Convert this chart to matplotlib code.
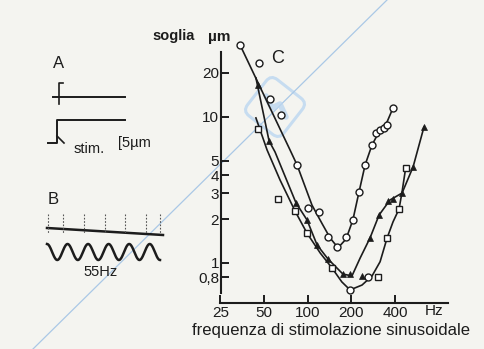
import matplotlib
matplotlib.use('Agg')
import matplotlib.pyplot as plt
import numpy as np
from matplotlib.ticker import FixedLocator, NullLocator
from matplotlib.patches import FancyBboxPatch
from matplotlib.transforms import Affine2D

plt.rcParams['font.family'] = ['Liberation Sans', 'DejaVu Sans']

W, H = 484, 349
BG = '#f4f4f0'
INK = '#1c1c1c'

# assi
x_ticks = [25, 50, 100, 200, 400]
y_ticks = [0.8, 1, 2, 3, 4, 5, 10, 20]
y_tick_labels = ['0,8', '1', '2', '3', '4', '5', '10', '20']

# cerchi vuoti (curva superiore) - frequenza Hz, soglia um
circ_f = [34.1, 46.1, 54.9, 65.4, 84.4, 100.5, 119.6, 138, 159, 184, 206, 226,
          249, 278, 296, 316, 335, 352, 387, 196, 262]
circ_v = [31.1, 23.4, 13.3, 10.3, 4.69, 2.38, 2.23, 1.51, 1.28, 1.51, 1.97, 3.07,
          4.69, 6.43, 7.77, 8.15, 8.4, 8.8, 11.5, 0.654, 0.80]
circ_fit_f = [34.1, 75.5, 84.4, 107, 126, 143, 162, 184, 205, 226, 249, 278, 316, 353, 388]
circ_fit_v = [31.1, 5.94, 4.69, 2.49, 1.85, 1.48, 1.27, 1.46, 1.97, 3.06, 4.69, 6.43, 8.15, 9.24, 11.5]

# triangoli pieni (curva intermedia)
tri_f = [45.4, 54, 83, 99, 116, 138, 175, 196, 237, 269, 311, 357, 387, 448, 534, 635]
tri_v = [16.6, 6.85, 2.58, 1.97, 1.33, 1.07, 0.84, 0.84, 0.82, 1.48, 2.13, 2.66,
         2.75, 3.01, 4.55, 8.54]
tri_fit_f = [43.9, 54.1, 59.5, 83.0, 98.9, 116, 138, 175, 202, 230, 269, 311, 370, 448, 534, 635]
tri_fit_v = [18.5, 6.85, 5.75, 2.58, 1.97, 1.33, 1.065, 0.84, 0.815, 1.08, 1.48, 2.13,
             2.70, 3.01, 4.55, 8.54]

# quadrati vuoti (curva inferiore)
sq_f = [45.4, 62.3, 81.7, 99, 147, 305, 353, 427, 477]
sq_v = [8.28, 2.75, 2.27, 1.60, 0.925, 0.80, 1.49, 2.34, 4.47]
sq_fit_f = [43.9, 52.4, 64.4, 81.7, 98.9, 122, 147, 172, 196, 237, 278, 316, 353, 388, 427, 448, 470]
sq_fit_v = [9.84, 5.94, 3.70, 2.27, 1.60, 1.17, 0.925, 0.742, 0.654, 0.706, 0.815, 1.02,
            1.48, 1.91, 2.34, 3.06, 4.20]

# pannello B: stimolo sinusoidale
stim_hz = 55
n_cycles = 5.5

fig = plt.figure(figsize=(W / 100, H / 100), dpi=100, facecolor=BG)

# livello decorativo in coordinate pixel (pannelli A e B, linea blu, timbro)
deco = fig.add_axes([0, 0, 1, 1])
deco.set_xlim(0, W)
deco.set_ylim(H, 0)
deco.axis('off')

deco.plot([33, 387], [349, 0], color='#aac8e6', lw=0.9)
stamp = FancyBboxPatch((255, 87), 40, 40, boxstyle='round,pad=3,rounding_size=8',
                       fc='none', ec='#c6dcf0', lw=2.2,
                       transform=Affine2D().rotate_deg_around(275, 107, 38) + deco.transData)
deco.add_patch(stamp)
deco.plot([266, 272, 280, 286], [96, 108, 104, 117], color='#bcd6ef', lw=4,
          solid_capstyle='round', alpha=0.8)

# A
deco.text(59, 63, 'A', fontsize=12, ha='center', va='center', color=INK)
deco.plot([53, 125], [97, 97], color=INK, lw=1.4)
deco.plot([59, 59, 63], [104, 83, 83], color=INK, lw=1.2)
deco.plot([125, 57, 57, 48], [120, 120, 143, 143], color=INK, lw=1.4)
deco.plot([57, 64], [136, 143], color=INK, lw=1.2)
deco.text(89, 149, 'stim.', fontsize=10.5, ha='center', va='center', color=INK)
deco.text(134, 143, '[5µm', fontsize=10.5, ha='center', va='center', color=INK)

# B
deco.text(53, 200, 'B', fontsize=12, ha='center', va='center', color=INK)
deco.plot([47, 163], [228, 235], color=INK, lw=1.8)
for xm in [48, 63, 84, 105, 125, 146, 160]:
    deco.plot([xm, xm], [214, 233], color='#555555', lw=0.8, dashes=(1.5, 1.5))
xs = np.linspace(47, 160, 400)
deco.plot(xs, 252 - 8 * np.cos(2 * np.pi * n_cycles * (xs - 47) / 113), color=INK, lw=1.8)
deco.text(101, 272, f'{stim_hz}Hz', fontsize=10.5, ha='center', va='center', color=INK)

# C: grafico soglia / frequenza
ax = fig.add_axes([220.5 / W, 1 - 293 / H, 227.5 / W, 253 / H])
ax.patch.set_alpha(0)
ax.set_xscale('log')
ax.set_yscale('log')
ax.set_xlim(25, 930)
ax.set_ylim(0.623, 33.6)

ax.plot(circ_fit_f, circ_fit_v, color=INK, lw=1.2)
ax.plot(tri_fit_f, tri_fit_v, color=INK, lw=1.2)
ax.plot(sq_fit_f, sq_fit_v, color=INK, lw=1.2)
ax.plot(circ_f, circ_v, 'o', ms=5, mfc='white', mec=INK, mew=1.0, clip_on=False)
ax.plot(sq_f, sq_v, 's', ms=4.8, mfc='white', mec=INK, mew=1.0, clip_on=False)
ax.plot(tri_f, tri_v, '^', ms=5, mfc=INK, mec=INK, mew=0.5, clip_on=False)

ax.text(62.3, 25.0, 'C', fontsize=13, ha='center', va='center', color=INK)

for s in ['top', 'right']:
    ax.spines[s].set_visible(False)
ax.spines['left'].set_bounds(0.623, 27.9)
ax.spines['bottom'].set_position(('outward', 7.2))
ax.spines['bottom'].set_bounds(25, 930)
for s in ['left', 'bottom']:
    ax.spines[s].set_linewidth(1.5)
    ax.spines[s].set_color(INK)

ax.xaxis.set_major_locator(FixedLocator(x_ticks))
ax.xaxis.set_minor_locator(NullLocator())
ax.set_xticklabels([str(t) for t in x_ticks])
ax.yaxis.set_major_locator(FixedLocator(y_ticks))
ax.yaxis.set_minor_locator(NullLocator())
ax.set_yticklabels(y_tick_labels)
ax.tick_params(axis='both', direction='in', length=6, width=1.4, color=INK,
               labelsize=11, labelcolor=INK)
ax.tick_params(axis='x', pad=2)
ax.tick_params(axis='y', pad=1)

fig.text(434 / W, 1 - 311 / H, 'Hz', fontsize=11, ha='center', va='center', color=INK)
fig.text(331 / W, 1 - 330 / H, 'frequenza di stimolazione sinusoidale', fontsize=12,
         ha='center', va='center', color=INK)
fig.text(174 / W, 1 - 36 / H, 'soglia', fontsize=10.5, fontweight='bold',
         ha='center', va='center', color=INK)
fig.text(219 / W, 1 - 37 / H, 'µm', fontsize=11, fontweight='bold',
         ha='center', va='center', color=INK)

fig.savefig('out.png', dpi=100, facecolor=BG)
